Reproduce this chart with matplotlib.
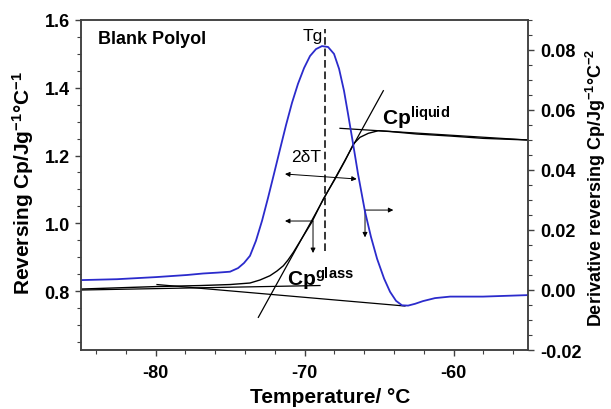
import matplotlib
matplotlib.use('Agg')
import matplotlib.pyplot as plt
from matplotlib.ticker import MultipleLocator

plt.rcParams['font.family'] = ['Liberation Sans', 'DejaVu Sans']
plt.rcParams['mathtext.fontset'] = 'custom'
plt.rcParams['mathtext.rm'] = 'Liberation Sans'
plt.rcParams['mathtext.bf'] = 'Liberation Sans:bold'
plt.rcParams['mathtext.default'] = 'bf'

# ---- data ----
# derivative of reversing Cp (right axis)
deriv_T = [-85.00, -82.58, -79.97, -77.89, -76.81, -75.81, -75.00, -74.46, -74.06,
           -73.66, -73.26, -72.85, -72.45, -72.05, -71.64, -71.24, -70.84, -70.44,
           -70.03, -69.63, -69.23, -68.83, -68.42, -68.02, -67.68, -67.35, -67.08,
           -66.74, -66.41, -65.94, -65.54, -65.13, -64.66, -64.26, -63.86, -63.46,
           -63.05, -62.58, -62.05, -61.24, -60.23, -58.02, -55.00]
deriv_val = [0.0033, 0.0036, 0.0043, 0.0050, 0.0055, 0.0058, 0.0061, 0.0073, 0.0090,
             0.0114, 0.0164, 0.0231, 0.0307, 0.0387, 0.0470, 0.0550, 0.0624, 0.0687,
             0.0740, 0.0780, 0.0803, 0.0813, 0.0810, 0.0787, 0.0737, 0.0664, 0.0587,
             0.0487, 0.0387, 0.0261, 0.0177, 0.0104, 0.0038, -0.0006, -0.0036, -0.0051,
             -0.0052, -0.0046, -0.0037, -0.0027, -0.0022, -0.0022, -0.0017]

# reversing Cp (left axis)
cp_T = [-85.00, -79.90, -77.01, -75.00, -73.66, -72.99, -72.32, -71.85, -71.42,
        -71.11, -70.75, -69.52, -68.74, -67.95, -67.28, -66.72, -66.28, -65.72,
        -65.05, -64.26, -62.47, -60.23, -58.00, -55.00]
cp_val = [0.8059, 0.8133, 0.8162, 0.8192, 0.8237, 0.8326, 0.8452, 0.8591, 0.8747,
          0.8915, 0.9143, 1.0028, 1.0716, 1.1307, 1.1847, 1.2339, 1.2537, 1.2655,
          1.2732, 1.2708, 1.2635, 1.2576, 1.2507, 1.2458]

# construction lines (left axis units)
steep_T = [-73.10, -64.71]
steep_val = [0.7224, 1.3913]
liquid_T = [-67.62, -55.00]
liquid_val = [1.2803, 1.2458]
glass_T = [-85.00, -68.96]
glass_val = [0.8030, 0.8163]
base_T = [-79.90, -63.26]
base_val = [0.8192, 0.7558]
tg_T = -68.62
tg_span = [0.9181, 1.5735]

# arrows: (tail, head) in left-axis data units
dT_arrow = [(-71.31, 1.1454), (-66.50, 1.1307)]
left_h = [(-69.43, 1.0067), (-71.31, 1.0067)]
left_v = [(-69.43, 1.0067), (-69.43, 0.9122)]
right_h = [(-65.94, 1.0390), (-64.04, 1.0390)]
right_v = [(-65.94, 1.0390), (-65.94, 0.9585)]

x_ticks = [-80, -70, -60]
left_ticks = [0.8, 1.0, 1.2, 1.4, 1.6]
right_ticks = [-0.02, 0.00, 0.02, 0.04, 0.06, 0.08]

# ---- figure ----
fig = plt.figure(figsize=(6.11, 4.10), dpi=100)
ax = fig.add_axes([0.1326, 0.1439, 0.7316, 0.8049])
ax2 = ax.twinx()

frame = '#404040'
for a in (ax, ax2):
    for s in a.spines.values():
        s.set_color(frame)
        s.set_linewidth(1.1)

ax.plot(cp_T, cp_val, color='black', lw=1.0)
ax.plot(steep_T, steep_val, color='black', lw=0.9)
ax.plot(liquid_T, liquid_val, color='black', lw=0.9)
ax.plot(glass_T, glass_val, color='black', lw=0.9)
ax.plot(base_T, base_val, color='black', lw=0.9)
ax.plot([tg_T, tg_T], tg_span, color='black', lw=1.1, dashes=(5, 2.5))

ax2.plot(deriv_T, deriv_val, color='#2b2bcc', lw=1.3)

def arrow(pair, style='-|>'):
    (x0, y0), (x1, y1) = pair
    ax.annotate('', xy=(x1, y1), xytext=(x0, y0),
                arrowprops=dict(arrowstyle=style, color='black', lw=0.7,
                                shrinkA=0, shrinkB=0, mutation_scale=7))

arrow(dT_arrow, '<|-|>')
arrow(left_h)
arrow(left_v)
arrow(right_h)
arrow(right_v)

ax.text(0.038, 0.944, 'Blank Polyol', transform=ax.transAxes, fontsize=13,
        fontweight='bold', ha='left', va='center')
ax.text(-68.76, 1.5557, 'Tg', fontsize=12.5, ha='right', va='center')
ax.text(-70.93, 1.1971, '2δT', fontsize=12.5, ha='left', va='center')
ax.text(-64.80, 1.2930, r'Cp$^{liquid}$', fontsize=15, fontweight='bold',
        ha='left', va='baseline')
ax.text(-71.17, 0.8156, r'Cp$^{glass}$', fontsize=15, fontweight='bold',
        ha='left', va='baseline')

ax.set_xlim(-85, -55)
ax.set_ylim(0.626, 1.6)
ax2.set_ylim(-0.02, 0.09)

ax.set_xticks(x_ticks)
ax.set_xticklabels([f'{v:d}' for v in x_ticks])
ax.xaxis.set_minor_locator(MultipleLocator(2))
ax.set_yticks(left_ticks)
ax.set_yticklabels([f'{v:.1f}' for v in left_ticks])
ax.yaxis.set_minor_locator(MultipleLocator(0.05))
ax2.set_yticks(right_ticks)
ax2.set_yticklabels([f'{v:.2f}' for v in right_ticks])
ax2.yaxis.set_minor_locator(MultipleLocator(0.005))

for a in (ax, ax2):
    a.tick_params(which='major', direction='out', length=4, width=1, color=frame,
                  labelsize=13)
    a.tick_params(which='minor', direction='out', length=3, width=0.8, color=frame)
    for lab in a.get_xticklabels() + a.get_yticklabels():
        lab.set_fontweight('bold')
ax.tick_params(axis='x', pad=6)
ax.tick_params(axis='y', pad=4)
ax2.tick_params(axis='y', pad=5)
ax.tick_params(top=False, which='both')

ax.set_xlabel('Temperature/ °C', fontsize=15, fontweight='bold')
ax.xaxis.set_label_coords(0.557, -0.112)
ax.set_ylabel('Reversing Cp/Jg$^{-1}$°C$^{-1}$', fontsize=15, fontweight='bold')
ax.yaxis.set_label_coords(-0.10, 0.509)
ax2.set_ylabel('Derivative reversing Cp/Jg$^{-1}$°C$^{-2}$', fontsize=13,
               fontweight='bold', rotation=90)
ax2.yaxis.set_label_coords(1.125, 0.495)

fig.savefig('out.png', dpi=100)
